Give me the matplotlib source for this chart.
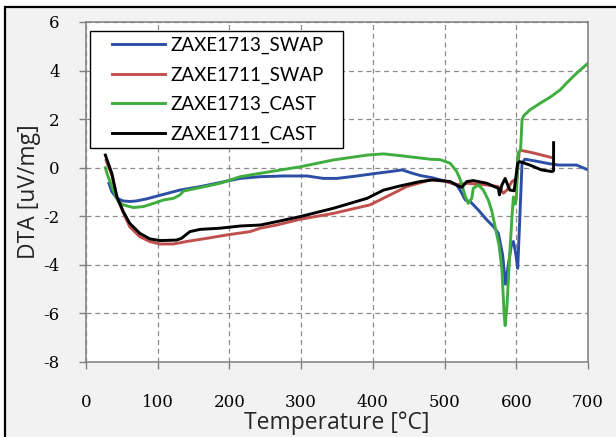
import matplotlib
matplotlib.use("Agg")
import matplotlib.pyplot as plt
from matplotlib.patches import Rectangle

plt.rcParams["axes.unicode_minus"] = False

# DTA curves
t_1713_swap = [32, 36, 43, 52, 61, 70, 85, 100, 131, 159, 187, 215, 243, 275, 308, 331, 350, 378,
               405, 424, 441, 452, 466, 484, 503, 517, 524, 529, 536, 547, 559, 568, 575, 581,
               585, 589, 593, 596, 599, 602, 605, 608, 612, 624, 647, 659, 684, 700]
dta_1713_swap = [-0.64, -0.98, -1.26, -1.37, -1.39, -1.37, -1.28, -1.16, -0.92, -0.78, -0.61, -0.44,
                 -0.37, -0.34, -0.34, -0.44, -0.44, -0.34, -0.23, -0.16, -0.09, -0.2, -0.32, -0.42,
                 -0.57, -0.71, -1.05, -1.33, -1.40, -1.74, -2.15, -2.42, -2.7, -3.6, -4.8, -4.0,
                 -3.2, -3.04, -3.5, -4.14, -2.0, 0.18, 0.35, 0.29, 0.16, 0.11, 0.11, -0.09]

t_1711_swap = [28, 36, 43, 52, 61, 75, 89, 103, 122, 140, 168, 196, 229, 243, 266, 299, 345, 396,
               424, 447, 480, 500, 518, 531, 559, 575, 582, 587, 594, 598, 601, 604, 606, 625, 649]
dta_1711_swap = [0.3, -0.3, -1.2, -1.85, -2.43, -2.84, -3.04, -3.14, -3.14, -3.04, -2.91, -2.77,
                 -2.63, -2.49, -2.36, -2.12, -1.88, -1.53, -1.12, -0.78, -0.50, -0.55, -0.70, -0.64,
                 -0.71, -0.78, -1.05, -0.92, -0.57, -0.50, -0.45, 0.65, 0.72, 0.60, 0.42]

t_1713_cast = [27, 30, 38, 45, 52, 66, 80, 94, 108, 122, 131, 136, 154, 187, 215, 229, 243, 299,
               345, 392, 415, 443, 466, 480, 494, 508, 517, 522, 529, 533, 538, 540, 547, 554,
               561, 566, 571, 576, 580, 583, 584.5, 587, 591, 594, 596, 598, 600, 602.5, 606,
               608, 610, 619, 633, 647, 661, 670, 684, 700]
dta_1713_cast = [0.0, -0.3, -0.92, -1.40, -1.53, -1.64, -1.60, -1.47, -1.33, -1.26, -1.12, -0.96,
                 -0.85, -0.64, -0.37, -0.30, -0.23, 0.04, 0.32, 0.52, 0.57, 0.48, 0.40, 0.35, 0.33,
                 0.18, -0.16, -0.5, -1.19, -1.47, -1.26, -0.85, -0.71, -0.92, -1.33, -1.8, -2.5,
                 -3.2, -4.2, -6.0, -6.5, -5.7, -3.5, -2.0, -1.2, -1.5, -1.3, 0.6, 0.73, 1.97,
                 2.13, 2.38, 2.65, 2.90, 3.2, 3.48, 3.89, 4.30]

t_1711_cast = [27, 36, 43, 52, 61, 75, 89, 103, 126, 133, 145, 159, 187, 215, 229, 243, 266, 299,
               345, 392, 415, 438, 466, 484, 508, 519, 524, 531, 540, 559, 575, 576.5, 580, 584.5,
               588, 591, 597, 602, 605, 619, 635, 650, 652, 652]
dta_1711_cast = [0.52, -0.23, -1.19, -1.81, -2.29, -2.7, -2.93, -3.0, -2.98, -2.91, -2.63, -2.54,
                 -2.49, -2.4, -2.38, -2.36, -2.22, -2.01, -1.67, -1.26, -0.92, -0.75, -0.57, -0.50,
                 -0.57, -0.75, -0.81, -0.57, -0.53, -0.64, -0.85, -1.12, -0.71, -0.44, -0.71, -0.92,
                 -0.95, 0.2, 0.25, 0.11, -0.09, -0.16, -0.12, 1.03]

labels = ["ZAXE1713_SWAP", "ZAXE1711_SWAP", "ZAXE1713_CAST", "ZAXE1711_CAST"]
colors = ["#2d4ea6", "#c0504d", "#3fae3f", "#000000"]

W, H = 616, 437
fig = plt.figure(figsize=(W / 100, H / 100), dpi=100)
fig.patch.set_facecolor("white")
# grey chart area with a black frame on the left and top
fig.add_artist(Rectangle((5 / W, -0.1), 1.2, 1.1 - 7 / H, transform=fig.transFigure,
                         facecolor="#f2f2f2", edgecolor="black", linewidth=1.6, zorder=-5))

ax = fig.add_axes([86 / W, 75 / H, 502 / W, 340 / H])
ax.set_facecolor("white")

series = [(t_1713_swap, dta_1713_swap), (t_1711_swap, dta_1711_swap),
          (t_1713_cast, dta_1713_cast), (t_1711_cast, dta_1711_cast)]
for (t, d), lab, c in zip(series, labels, colors):
    ax.plot(t, d, color=c, lw=2.1, label=lab, solid_joinstyle="round")

ax.set_xlim(0, 700)
ax.set_ylim(-8, 6)
ax.set_xticks(range(0, 701, 100))
ax.set_yticks(range(-8, 7, 2))
ax.grid(True, color="#8c8c8c", linestyle=(0, (4, 3)), linewidth=0.9)
ax.set_axisbelow(True)
for s in ax.spines.values():
    s.set_color("#7f7f7f")
    s.set_linewidth(1.1)

ax.tick_params(axis="both", direction="out", length=5, color="#7f7f7f", width=1)
ax.tick_params(axis="x", pad=18)
ax.tick_params(axis="y", pad=14)
for lbl in ax.get_xticklabels() + ax.get_yticklabels():
    lbl.set_fontfamily("DejaVu Serif")
    lbl.set_fontsize(12)

ax.set_xlabel("Temperature [°C]", fontfamily="Open Sans", fontsize=16.5, labelpad=0, color="#262626")
ax.set_ylabel("DTA [uV/mg]", fontfamily="Open Sans", fontsize=16.5, labelpad=2, color="#262626")

leg = ax.legend(loc="upper left", bbox_to_anchor=(0.0406, 0.9735), borderaxespad=0,
                prop=dict(family="Lato", size=13.5), frameon=False,
                handlelength=2.8, labelspacing=0.66, borderpad=0.3, handletextpad=0.3)

# Excel-like legend box: wider padding left and right than top and bottom
fig.canvas.draw()
bb = leg.get_window_extent()
ax.add_patch(Rectangle((bb.x0 - 16, bb.y0), bb.width + 30, bb.height, transform=None,
                       facecolor="white", edgecolor="black", linewidth=1.0, zorder=4.5,
                       clip_on=False))

fig.savefig("out.png", dpi=100)
